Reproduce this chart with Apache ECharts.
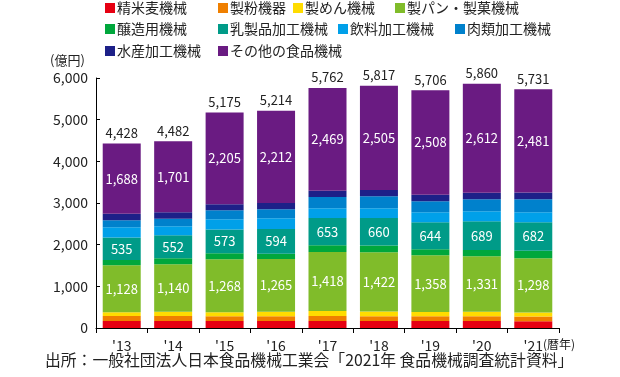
<!DOCTYPE html>
<html><head><meta charset="utf-8">
<script src="https://cdn.jsdelivr.net/npm/echarts@6/dist/echarts.min.js"></script>
<style>html,body{margin:0;padding:0;background:#fff}#c{width:620px;height:377px}</style>
</head><body><div id="c"></div>
<script>
const categories = ["'13","'14","'15","'16","'17","'18","'19","'20","'21"];
const seriesNames = ['精米麦機械','製粉機器','製めん機械','製パン・製菓機械','醸造用機械','乳製品加工機械','飲料加工機械','肉類加工機械','水産加工機械','その他の食品機械'];
const seimai   = [168,170,168,168,168,170,168,168,165];
const seifun   = [118,118,113,113,120,115,113,114,110];
const seimen   = [91,102,100,110,118,110,106,108,100];
const seipan   = [1128,1140,1268,1265,1418,1422,1358,1331,1298];
const jozo     = [130,143,144,126,161,163,148,151,182];
const nyuseihin= [535,552,573,594,653,660,644,689,682];
const inryo    = [247,216,243,257,235,233,240,240,240];
const nikurui  = [168,184,216,216,271,288,264,288,312];
const suisan   = [155,156,145,153,149,151,157,159,161];
const sonota   = [1688,1701,2205,2212,2469,2505,2508,2612,2481];
const totals   = [4428,4482,5175,5214,5762,5817,5706,5860,5731];
const yTicks   = [0,1000,2000,3000,4000,5000,6000];

const values = [seimai,seifun,seimen,seipan,jozo,nyuseihin,inryo,nikurui,suisan,sonota];
const colors = ['#E60012','#EF7F00','#FFDC00','#80BC2A','#00A73C','#009B88','#00A0E9','#0081CC','#1D2088','#6A1B82'];
const labeled = {3:true,5:true,9:true};
const FONT = '"Noto Sans CJK JP","Noto Sans",sans-serif';
const fmt = v => Number(v).toLocaleString('en-US');

const legendPos = [[105,1],[218,1],[293,1],[395,1],[105,22],[218,22],[338,22],[455,22],[105,44],[218,44]];
const legends = seriesNames.map((n,i)=>({
  data:[n], left:legendPos[i][0], top:legendPos[i][1], padding:0,
  icon:'rect', itemWidth:10, itemHeight:10, selectedMode:false,
  textStyle:{fontFamily:FONT,fontSize:14,color:'#222',padding:[0,0,0,-3]}
}));

const series = seriesNames.map((n,i)=>({
  name:n, type:'bar', stack:'t', data:values[i], barWidth:38,
  itemStyle:{color:colors[i]},
  label:{show:!!labeled[i], position:'inside', color:'#fff', fontFamily:FONT, fontSize:13, formatter:p=>fmt(p.value)}
}));
series.push({
  name:'合計', type:'bar', data:totals, barWidth:38, barGap:'-100%', z:0,
  itemStyle:{color:'rgba(0,0,0,0)'}, silent:true,
  label:{show:true, position:'top', distance:4, color:'#222', fontFamily:FONT, fontSize:13, formatter:p=>fmt(p.value)}
});

const chart = echarts.init(document.getElementById('c'), null, {renderer:'canvas'});
chart.setOption({
  animation:false,
  textStyle:{fontFamily:FONT},
  legend:legends,
  grid:{left:96,right:61,top:78,bottom:49},
  xAxis:{type:'category',data:categories,
    axisLine:{lineStyle:{color:'#000',width:1}},
    axisTick:{show:true,length:5,lineStyle:{color:'#000'}},
    axisLabel:{color:'#222',fontSize:14,fontFamily:FONT,margin:11}},
  yAxis:{type:'value',min:yTicks[0],max:yTicks[yTicks.length-1],interval:1000,
    axisLine:{show:true,lineStyle:{color:'#000',width:1}},
    axisTick:{show:true,inside:true,length:4,lineStyle:{color:'#000'}},
    splitLine:{show:false},
    axisLabel:{color:'#222',fontSize:14,fontFamily:FONT,margin:8,formatter:v=>fmt(v)}},
  graphic:[
    {type:'text',left:50,top:54,style:{text:'(億円)',fill:'#222',font:'13px '+FONT}},
    {type:'text',left:543,top:338,style:{text:'(暦年)',fill:'#222',font:'12px '+FONT}},
    {type:'text',left:45,top:352,style:{text:'出所：一般社団法人日本食品機械工業会「2021年 食品機械調査統計資料」',fill:'#222',font:'15.8px '+FONT}}
  ],
  series:series
});
</script></body></html>
